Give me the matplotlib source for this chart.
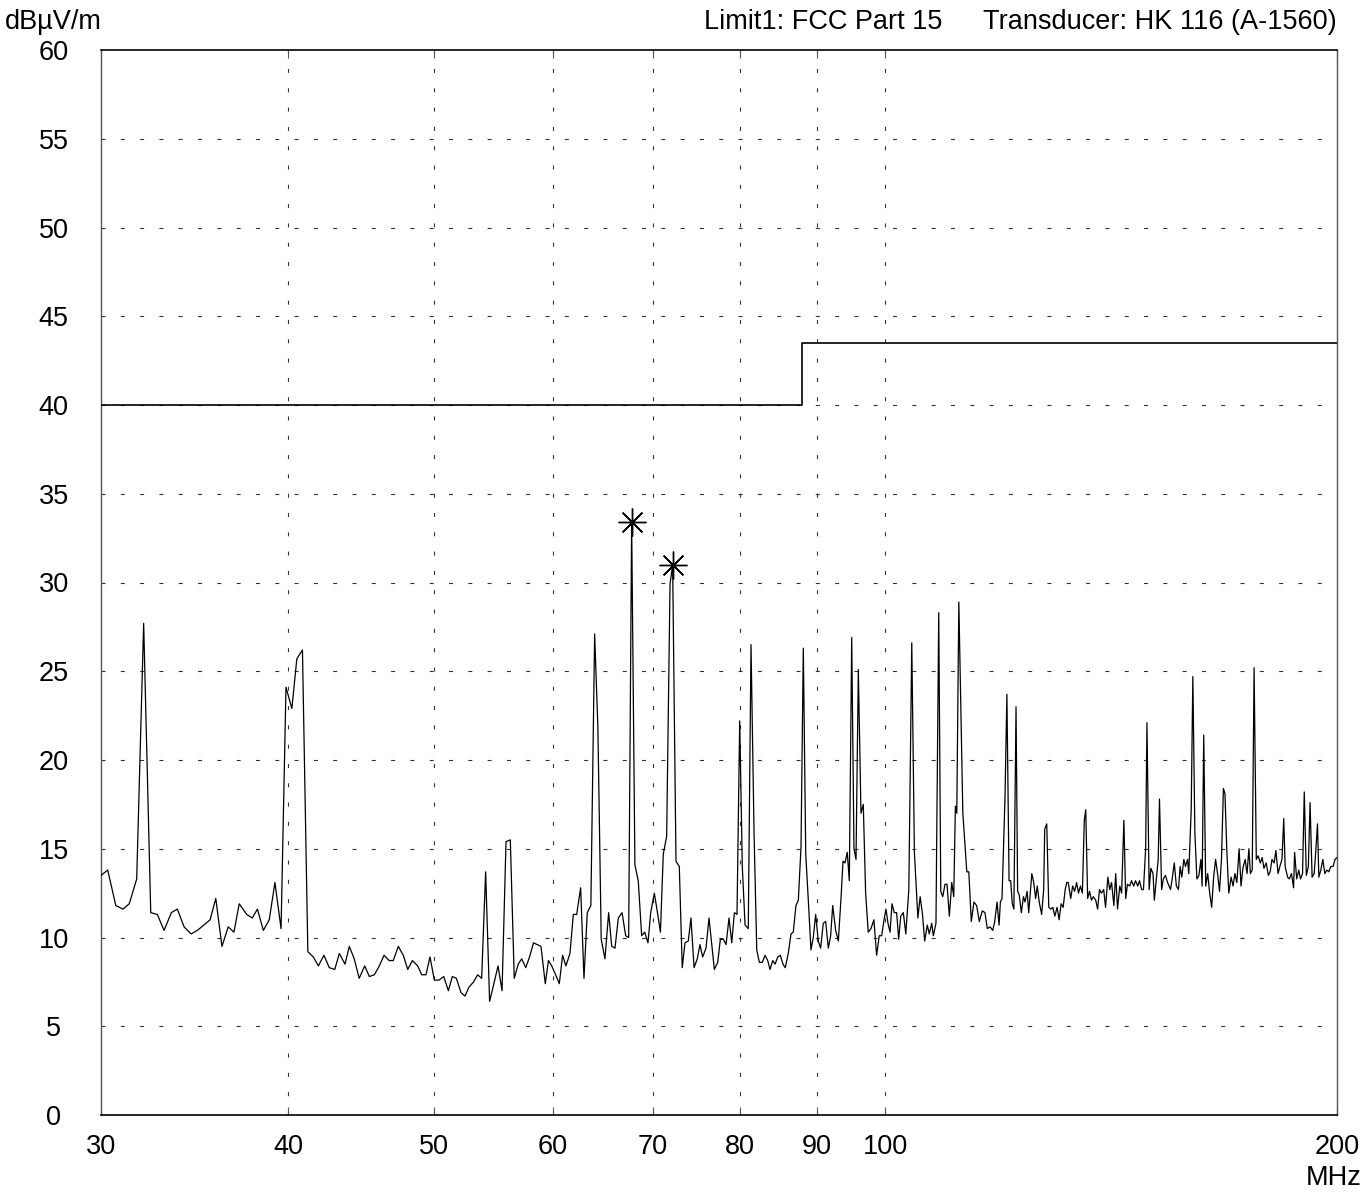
import matplotlib
matplotlib.use("Agg")
import matplotlib.pyplot as plt
from matplotlib.ticker import FixedLocator, NullLocator

plt.rcParams['font.family'] = ['Liberation Sans', 'DejaVu Sans']
plt.rcParams['lines.scale_dashes'] = False

band_30_48 = [(30.00, 13.5), (30.31, 13.8), (30.69, 11.8), (31.03, 11.6), (31.33, 11.9), (31.69, 13.3),
              (32.03, 27.7), (32.38, 11.4), (32.71, 11.3), (33.05, 10.4), (33.42, 11.4), (33.73, 11.6),
              (34.08, 10.6), (34.45, 10.2), (34.78, 10.4), (35.13, 10.7), (35.47, 11.0), (35.78, 12.2),
              (36.12, 9.5), (36.47, 10.6), (36.79, 10.3), (37.09, 11.9), (37.52, 11.3), (37.84, 11.1),
              (38.14, 11.6), (38.49, 10.4), (38.84, 11.0), (39.18, 13.1), (39.55, 10.5), (39.85, 24.1),
              (40.21, 22.9), (40.52, 25.7), (40.87, 26.2), (41.21, 9.2), (41.56, 8.9), (41.88, 8.4),
              (42.24, 9.0), (42.59, 8.3), (42.95, 8.2), (43.25, 9.1), (43.63, 8.5), (43.92, 9.5),
              (44.25, 8.8), (44.59, 7.7), (44.97, 8.4), (45.29, 7.8), (45.64, 7.9), (45.99, 8.4),
              (46.32, 9.0), (46.69, 8.7), (46.98, 8.7), (47.35, 9.5), (47.71, 9.0), (48.04, 8.2)]

band_48_61 = [(48.38, 8.7), (48.78, 8.4), (49.08, 7.9), (49.40, 7.9), (49.71, 8.9), (50.04, 7.6),
              (50.40, 7.6), (50.77, 7.8), (51.13, 7.0), (51.44, 7.8), (51.76, 7.7), (52.13, 6.9),
              (52.45, 6.7), (52.77, 7.2), (53.15, 7.5), (53.48, 7.9), (53.81, 7.7), (54.14, 13.7),
              (54.47, 6.4), (54.83, 7.4), (55.18, 8.4), (55.52, 7.0), (55.86, 15.4), (56.23, 15.5),
              (56.57, 7.7), (56.92, 8.5), (57.22, 8.8), (57.58, 8.3), (57.91, 8.9), (58.27, 9.7),
              (58.94, 9.5), (59.33, 7.4), (59.62, 8.7), (59.92, 8.4), (60.28, 7.9), (60.62, 7.4)]

band_61_77 = [(60.93, 9.0), (61.24, 8.4), (61.62, 9.1), (61.94, 11.3), (62.26, 11.3), (62.64, 12.8),
              (62.96, 7.7), (63.28, 11.4), (63.63, 11.8), (64.00, 27.1), (64.32, 21.8), (64.65, 9.9),
              (65.02, 8.8), (65.39, 11.4), (65.70, 9.5), (66.03, 9.4), (66.37, 11.1), (66.75, 11.4),
              (67.12, 10.1), (67.43, 10.0), (67.74, 33.4), (68.08, 14.1), (68.43, 13.2), (68.79, 10.1),
              (69.11, 10.3), (69.46, 9.7), (69.75, 11.4), (70.14, 12.5), (70.51, 11.3), (70.80, 10.3),
              (71.11, 14.7), (71.48, 15.7), (71.85, 29.9), (72.14, 31.0), (72.51, 14.3), (72.88, 14.0),
              (73.21, 8.3), (73.52, 9.7), (73.89, 9.8), (74.20, 11.1), (74.55, 8.3), (74.92, 8.8),
              (75.23, 9.6), (75.54, 8.9), (75.93, 9.4), (76.28, 11.1)]

band_77_95 = [(76.91, 8.2), (77.31, 8.6), (77.62, 9.9), (77.98, 9.9), (78.30, 9.6), (78.66, 11.1),
              (78.99, 9.7), (79.31, 11.4), (79.63, 11.3), (79.96, 22.2), (80.28, 14.0), (80.62, 10.7),
              (81.02, 10.5), (81.36, 26.5), (81.74, 15.9), (82.08, 9.3), (82.41, 8.6), (82.78, 8.6),
              (83.13, 9.0), (83.47, 8.7), (83.77, 8.2), (84.12, 8.7), (84.42, 8.5), (84.77, 8.9),
              (85.10, 9.0), (85.45, 8.5), (85.75, 8.3), (86.15, 9.1), (86.51, 10.2), (86.81, 10.3),
              (87.17, 11.8), (87.49, 12.1), (87.85, 15.1), (88.16, 26.3), (88.49, 14.7), (88.84, 12.1),
              (89.20, 9.3), (89.52, 10.0), (89.85, 11.3), (90.21, 9.8), (90.54, 9.4), (90.90, 10.8),
              (91.24, 10.9), (91.61, 9.4), (91.94, 10.1), (92.23, 11.8), (92.65, 10.4), (93.03, 9.8),
              (93.41, 12.2), (93.70, 14.3), (93.99, 14.2), (94.31, 14.8), (94.61, 13.2), (94.96, 26.9),
              (95.29, 15.0)]

band_95_119 = [(95.59, 14.4), (95.93, 25.1), (96.32, 17.0), (96.66, 17.5), (97.01, 12.5), (97.40, 10.3),
               (97.81, 10.5), (98.25, 11.0), (98.66, 9.0), (99.06, 10.1), (99.43, 10.1), (99.79, 11.0),
               (100.09, 11.6), (100.40, 10.8), (100.71, 10.3), (101.02, 11.9), (101.37, 11.4), (101.74, 11.4),
               (102.06, 9.9), (102.38, 11.2), (102.79, 11.4), (103.18, 10.2), (103.66, 12.7), (104.13, 26.6),
               (104.55, 14.8), (105.11, 11.1), (105.48, 12.3), (105.86, 11.3), (106.21, 9.8), (106.64, 10.7),
               (106.97, 10.2), (107.37, 10.8), (107.63, 10.1), (108.07, 10.8), (108.53, 28.3), (108.87, 12.6),
               (109.20, 12.3), (109.58, 13.0), (109.92, 13.0), (110.31, 11.2), (110.72, 13.1), (111.06, 12.3),
               (111.34, 17.4), (111.58, 17.0), (111.93, 28.9), (112.62, 17.0), (113.31, 13.7), (113.66, 13.7),
               (114.09, 10.9), (114.56, 12.0), (115.03, 11.8), (115.50, 10.9), (116.04, 11.5), (116.51, 11.4),
               (116.93, 10.5), (117.42, 10.6), (117.91, 10.4), (118.27, 10.9), (118.69, 12.0), (119.06, 10.7)]

band_119_154 = [(119.3, 12.0), (119.6, 12.2), (120.15, 17.9), (120.5, 23.7), (120.9, 13.2), (121.2, 13.2),
                (121.5, 11.9), (121.8, 11.6), (122.2, 23.0), (122.5, 12.6), (122.8, 12.4), (123.2, 11.4),
                (123.6, 12.3), (123.9, 12.0), (124.3, 12.6), (124.6, 11.4), (125.2, 13.6), (125.56, 13.1),
                (125.94, 12.2), (126.25, 12.9), (126.63, 12.0), (127.1, 11.3), (127.5, 12.7), (127.7, 16.1),
                (128.1, 16.4), (128.5, 11.7), (128.9, 11.6), (129.3, 11.7), (129.7, 11.2), (130.15, 11.7),
                (130.55, 11.0), (130.96, 11.9), (131.37, 11.7), (131.78, 12.7), (132.1, 13.1), (132.4, 13.1),
                (132.9, 12.2), (133.3, 12.9), (133.7, 12.6), (134.1, 13.1), (134.5, 12.5), (134.9, 12.9),
                (135.3, 12.5), (135.7, 16.6), (136.0, 17.2), (136.4, 12.2), (136.8, 12.6), (137.2, 12.1),
                (137.6, 12.3), (138.1, 12.1), (138.5, 11.6), (138.9, 12.7), (139.3, 12.5), (139.8, 12.7),
                (140.2, 11.7), (140.7, 13.4), (141.1, 12.7), (141.5, 13.1), (142.0, 11.8), (142.4, 13.6),
                (142.8, 11.6), (143.3, 12.9), (143.7, 12.5), (144.2, 16.6), (144.6, 12.2), (145.0, 13.0),
                (145.5, 12.9), (145.9, 13.2), (146.4, 12.9), (146.8, 13.2), (147.3, 12.9), (147.7, 13.2),
                (148.2, 12.7), (148.6, 12.7), (149.1, 15.0), (149.4, 22.1), (149.9, 12.7), (150.3, 13.9),
                (150.8, 13.6), (151.1, 12.1), (151.5, 13.1), (152.0, 14.4), (152.3, 17.8), (152.8, 12.7),
                (153.2, 13.3), (153.7, 13.5), (154.2, 13.1)]

band_155_200 = [(154.9, 12.7), (155.3, 13.3), (155.8, 14.2), (156.3, 12.9), (156.8, 12.7), (157.2, 14.0),
                (157.6, 13.4), (158.1, 14.4), (158.5, 14.0), (159.0, 14.4), (159.3, 13.6), (159.9, 17.2),
                (160.3, 24.7), (160.8, 15.9), (161.3, 13.3), (161.8, 13.5), (162.3, 14.4), (162.6, 12.9),
                (163.0, 21.4), (163.5, 12.9), (164.0, 13.6), (164.5, 12.5), (165.0, 11.7), (165.5, 13.4),
                (166.0, 14.4), (166.5, 13.6), (167.0, 12.6), (167.5, 14.4), (168.0, 18.4), (168.4, 18.1),
                (168.9, 14.8), (169.4, 12.5), (170.0, 13.4), (170.5, 12.9), (171.0, 13.6), (171.5, 13.1),
                (172.1, 15.0), (172.6, 12.9), (173.1, 13.9), (173.7, 14.4), (174.2, 13.6), (174.7, 15.0),
                (175.1, 13.6), (175.6, 13.8), (176.1, 25.2), (176.7, 14.4), (177.2, 14.6), (177.8, 14.2),
                (178.3, 14.5), (178.8, 13.9), (179.4, 14.2), (180.0, 13.5), (180.5, 13.7), (181.0, 14.4),
                (181.6, 14.2), (182.1, 14.9), (182.7, 13.6), (183.2, 14.0), (183.8, 14.4), (184.3, 16.7),
                (184.7, 14.0), (185.4, 13.4), (185.9, 13.3), (186.5, 13.6), (187.1, 12.8), (187.4, 14.8),
                (188.0, 13.3), (188.6, 13.8), (189.1, 13.3), (189.7, 13.6), (190.2, 18.2), (190.8, 13.5),
                (191.4, 14.0), (191.9, 17.6), (192.5, 13.4), (193.1, 13.6), (193.5, 14.6), (194.1, 16.4),
                (194.5, 13.4), (195.1, 13.8), (195.7, 14.4), (196.3, 13.6), (196.9, 13.8), (197.5, 13.7),
                (198.1, 14.0), (198.8, 14.0), (199.4, 14.4), (200.0, 14.5)]

# FCC Part 15 limit line
limit_freq = [30, 88, 88, 200]
limit_level = [40, 40, 43.5, 43.5]

# marked peaks
peak_freq = [67.74, 72.14]
peak_level = [33.4, 31.0]

x_ticks = [30, 40, 50, 60, 70, 80, 90, 100, 200]
x_grid = [40, 50, 60, 70, 80, 90, 100]
y_ticks = list(range(0, 61, 5))

scan = band_30_48 + band_48_61 + band_61_77 + band_77_95 + band_95_119 + band_119_154 + band_155_200
freq = [p[0] for p in scan]
level = [p[1] for p in scan]

W, H = 1366, 1193
FS = 19.5
fig = plt.figure(figsize=(W / 100, H / 100), dpi=100)
ax = fig.add_axes([101 / W, (H - 1115) / H, 1236 / W, 1065 / H])

ax.set_xscale('log')
ax.set_xlim(30, 200)
ax.set_ylim(0, 60)

# rejilla punteada (solo 40..100 en x)
dots = (0, (2.9, 11.0))
for g in x_grid:
    ax.axvline(g, color='#333333', lw=0.8, linestyle=dots, zorder=1)
for g in y_ticks[1:-1]:
    ax.axhline(g, color='#333333', lw=0.8, linestyle=dots, zorder=1)

ax.plot(limit_freq, limit_level, color='black', lw=1.2, zorder=3)
ax.plot(freq, level, color='black', lw=0.9, zorder=3)
ax.plot(peak_freq, peak_level, linestyle='none', marker=(8, 2, 0), markersize=20,
        markeredgecolor='black', markeredgewidth=1.0, zorder=4)

ax.xaxis.set_major_locator(FixedLocator(x_ticks))
ax.xaxis.set_minor_locator(NullLocator())
ax.set_xticklabels([str(t) for t in x_ticks])
ax.set_yticks(y_ticks)
ax.set_yticklabels([str(t) for t in y_ticks])

ax.tick_params(axis='x', which='major', direction='in', top=True, bottom=True,
               length=6, width=0.8, color='#555555', labelsize=FS, pad=14)
ax.tick_params(axis='y', length=0, labelsize=FS, pad=34)
for lab in ax.get_yticklabels():
    lab.set_horizontalalignment('center')

for side in ['top', 'bottom']:
    ax.spines[side].set_linewidth(1.2)
    ax.spines[side].set_color('black')
for side in ['left', 'right']:
    ax.spines[side].set_linewidth(1.0)
    ax.spines[side].set_color('#555555')

# textos de cabecera y unidad
fig.text(5 / W, 1 - 22 / H, 'dBµV/m', fontsize=FS, ha='left', va='center')
fig.text(704 / W, 1 - 22 / H, 'Limit1: FCC Part 15', fontsize=FS, ha='left', va='center')
fig.text(1337 / W, 1 - 22 / H, 'Transducer: HK 116 (A-1560)', fontsize=FS, ha='right', va='center')
fig.text(1362 / W, 1 - 1178 / H, 'MHz', fontsize=FS, ha='right', va='center')

fig.savefig('out.png', dpi=100)
